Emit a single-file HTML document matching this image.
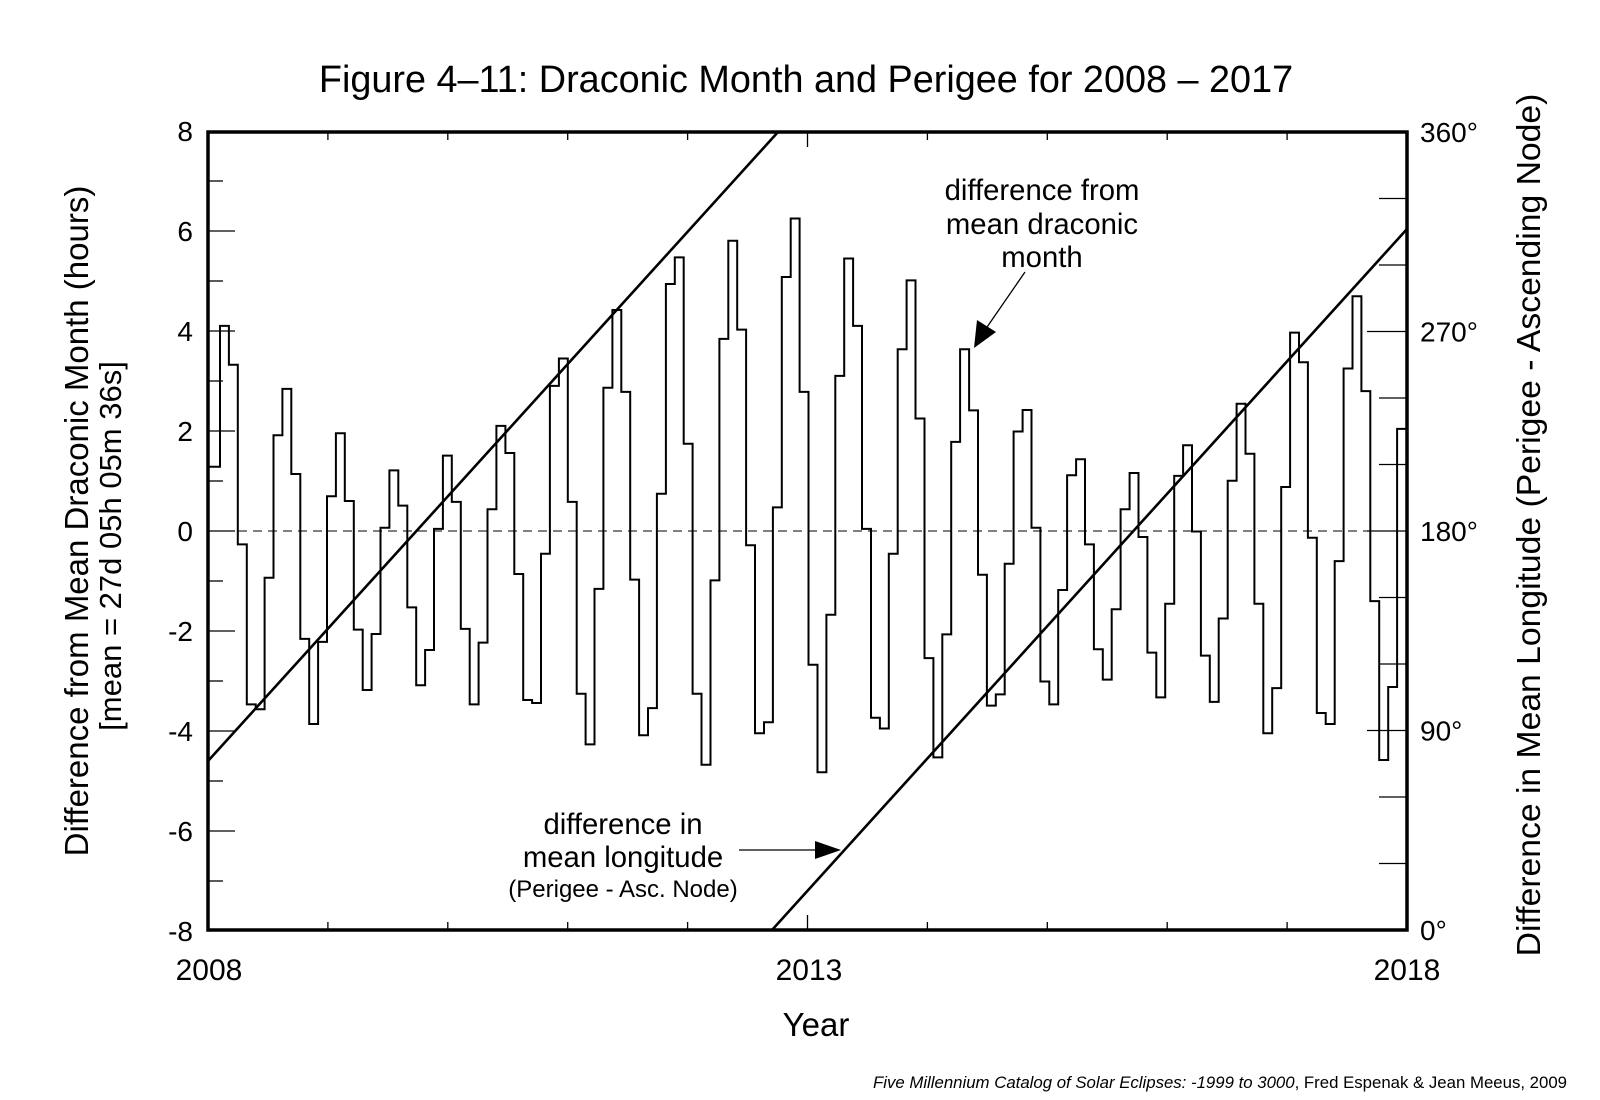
<!DOCTYPE html>
<html><head><meta charset="utf-8"><style>
html,body{margin:0;padding:0;background:#fff;}
svg{display:block;font-family:"Liberation Sans",Arial,sans-serif;}
</style></head><body>
<svg id="s" width="1600" height="1100" viewBox="0 0 1600 1100" xmlns="http://www.w3.org/2000/svg">
<rect width="1600" height="1100" fill="#fff"/>
<text x="806" y="92" font-size="37.8" text-anchor="middle">Figure 4–11: Draconic Month and Perigee for 2008 – 2017</text>
<g id="ticks" stroke="#000" stroke-width="1.3"></g>
<line x1="208" y1="531" x2="1407" y2="531" stroke="#000" stroke-width="1" stroke-dasharray="9,6"/>
<path id="step" fill="none" stroke="#000" stroke-width="2"/>
<line x1="208" y1="761" x2="778" y2="132" stroke="#000" stroke-width="2.6"/>
<line x1="772" y1="930" x2="1407" y2="229" stroke="#000" stroke-width="2.6"/>
<rect x="208" y="132" width="1199" height="798" fill="none" stroke="#000" stroke-width="3.5"/>
<g font-size="28" text-anchor="end" id="ylab"></g>
<g font-size="28" id="rlab"></g>
<g font-size="30" text-anchor="middle">
<text x="209" y="980">2008</text><text x="809" y="980">2013</text><text x="1407" y="980">2018</text>
</g>
<text x="816" y="1036" font-size="33" text-anchor="middle">Year</text>
<text transform="translate(88,521) rotate(-90)" font-size="33" text-anchor="middle">Difference from Mean Draconic Month (hours)</text>
<text transform="translate(121,546) rotate(-90)" font-size="31" text-anchor="middle">[mean = 27d 05h 05m 36s]</text>
<text transform="translate(1540,525) rotate(-90)" font-size="33.7" text-anchor="middle">Difference in Mean Longitude (Perigee - Ascending Node)</text>
<g font-size="29.3" text-anchor="middle">
<text x="1042" y="200">difference from</text>
<text x="1042" y="234">mean draconic</text>
<text x="1042" y="267">month</text>
<text x="623" y="834">difference in</text>
<text x="623" y="867">mean longitude</text>
<text x="623" y="897" font-size="24">(Perigee - Asc. Node)</text>
</g>
<line x1="1025" y1="272" x2="985" y2="330" stroke="#000" stroke-width="1.3"/>
<polygon points="974,348 977,320 996,332" fill="#000"/>
<line x1="739" y1="850" x2="820" y2="850" stroke="#000" stroke-width="1.3"/>
<polygon points="841,850 815,841 815,859" fill="#000"/>
<text x="1567" y="1088" font-size="16.8" text-anchor="end"><tspan font-style="italic">Five Millennium Catalog of Solar Eclipses: -1999 to 3000</tspan>, Fred Espenak &amp; Jean Meeus, 2009</text>
</svg>
<script>
var ys=[466.7,325.9,364.8,544.4,704.4,709.3,577.8,435.2,388.9,474,638.9,724,641.9,496.3,433.3,501,629.6,690,634,527.8,470.4,505.6,607.4,685.2,650,528.9,455.6,501.9,628.9,704.4,642.6,509.3,425.9,
453,574,700,703,553.7,385.9,358.5,501.9,693.7,744.4,588.9,387.8,310,391.9,579.6,735.2,708.1,493.7,284,257.4,443.7,693.7,764.8,580.4,338.9,240.7,329.6,545.2,733.3,722.2,507.4,277,218.5,391.9,
664.8,772.2,614.8,375.9,258.5,325.9,528.9,717.8,728.5,553.7,349.3,280.4,418.5,658.1,757.4,634.4,441.9,349.3,410.4,574.8,705.6,694.4,563.7,431.5,410,527.8,681.5,704.4,590,475.2,459.3,544.4,649.3,679.6,
609.3,509.3,473,537,652.6,697.4,603.7,475.9,445.2,531.5,655.6,701.9,618.5,480.7,403.7,453.7,603.7,733.3,688.1,487,332.6,362.2,537.8,713,724,561.1,368.5,296.3,391.1,601.1,760,687,428.9];
var w=(1406-220)/(ys.length-1);
var d="M208,"+ys[0];var x=220;
d+=" H"+x;
for(var i=1;i<ys.length;i++){d+=" V"+ys[i];x=Math.min(1406,220+w*i);d+=" H"+x.toFixed(1);}
document.getElementById('step').setAttribute('d',d);
var t=document.getElementById('ticks'),h='';
for(var v=-7;v<=7;v++){var y=531-50*v;var L=(v%2==0)?27:15;h+='<line x1="208" y1="'+y+'" x2="'+(208+L)+'" y2="'+y+'"/>';}
for(var k=1;k<12;k++){var y=930-k*798/12;var L=(k%3==0)?40:28;h+='<line x1="'+(1407-L)+'" y1="'+y.toFixed(1)+'" x2="1407" y2="'+y.toFixed(1)+'"/>';}
for(var k=1;k<10;k++){var x=208+k*119.9;var L=(k==5)?15:8;h+='<line x1="'+x+'" y1="930" x2="'+x+'" y2="'+(930-L)+'"/><line x1="'+x+'" y1="132" x2="'+x+'" y2="'+(132+L)+'"/>';}
t.innerHTML=h;
var yl='';for(var v=-8;v<=8;v+=2){yl+='<text x="193" y="'+(531-50*v+10)+'">'+v+'</text>';}
document.getElementById('ylab').innerHTML=yl;
var rl='',deg=[0,90,180,270,360];for(var i=0;i<5;i++){rl+='<text x="1420" y="'+(930-i*199.5+10)+'">'+deg[i]+'°</text>';}
document.getElementById('rlab').innerHTML=rl;
</script>
</body></html>
